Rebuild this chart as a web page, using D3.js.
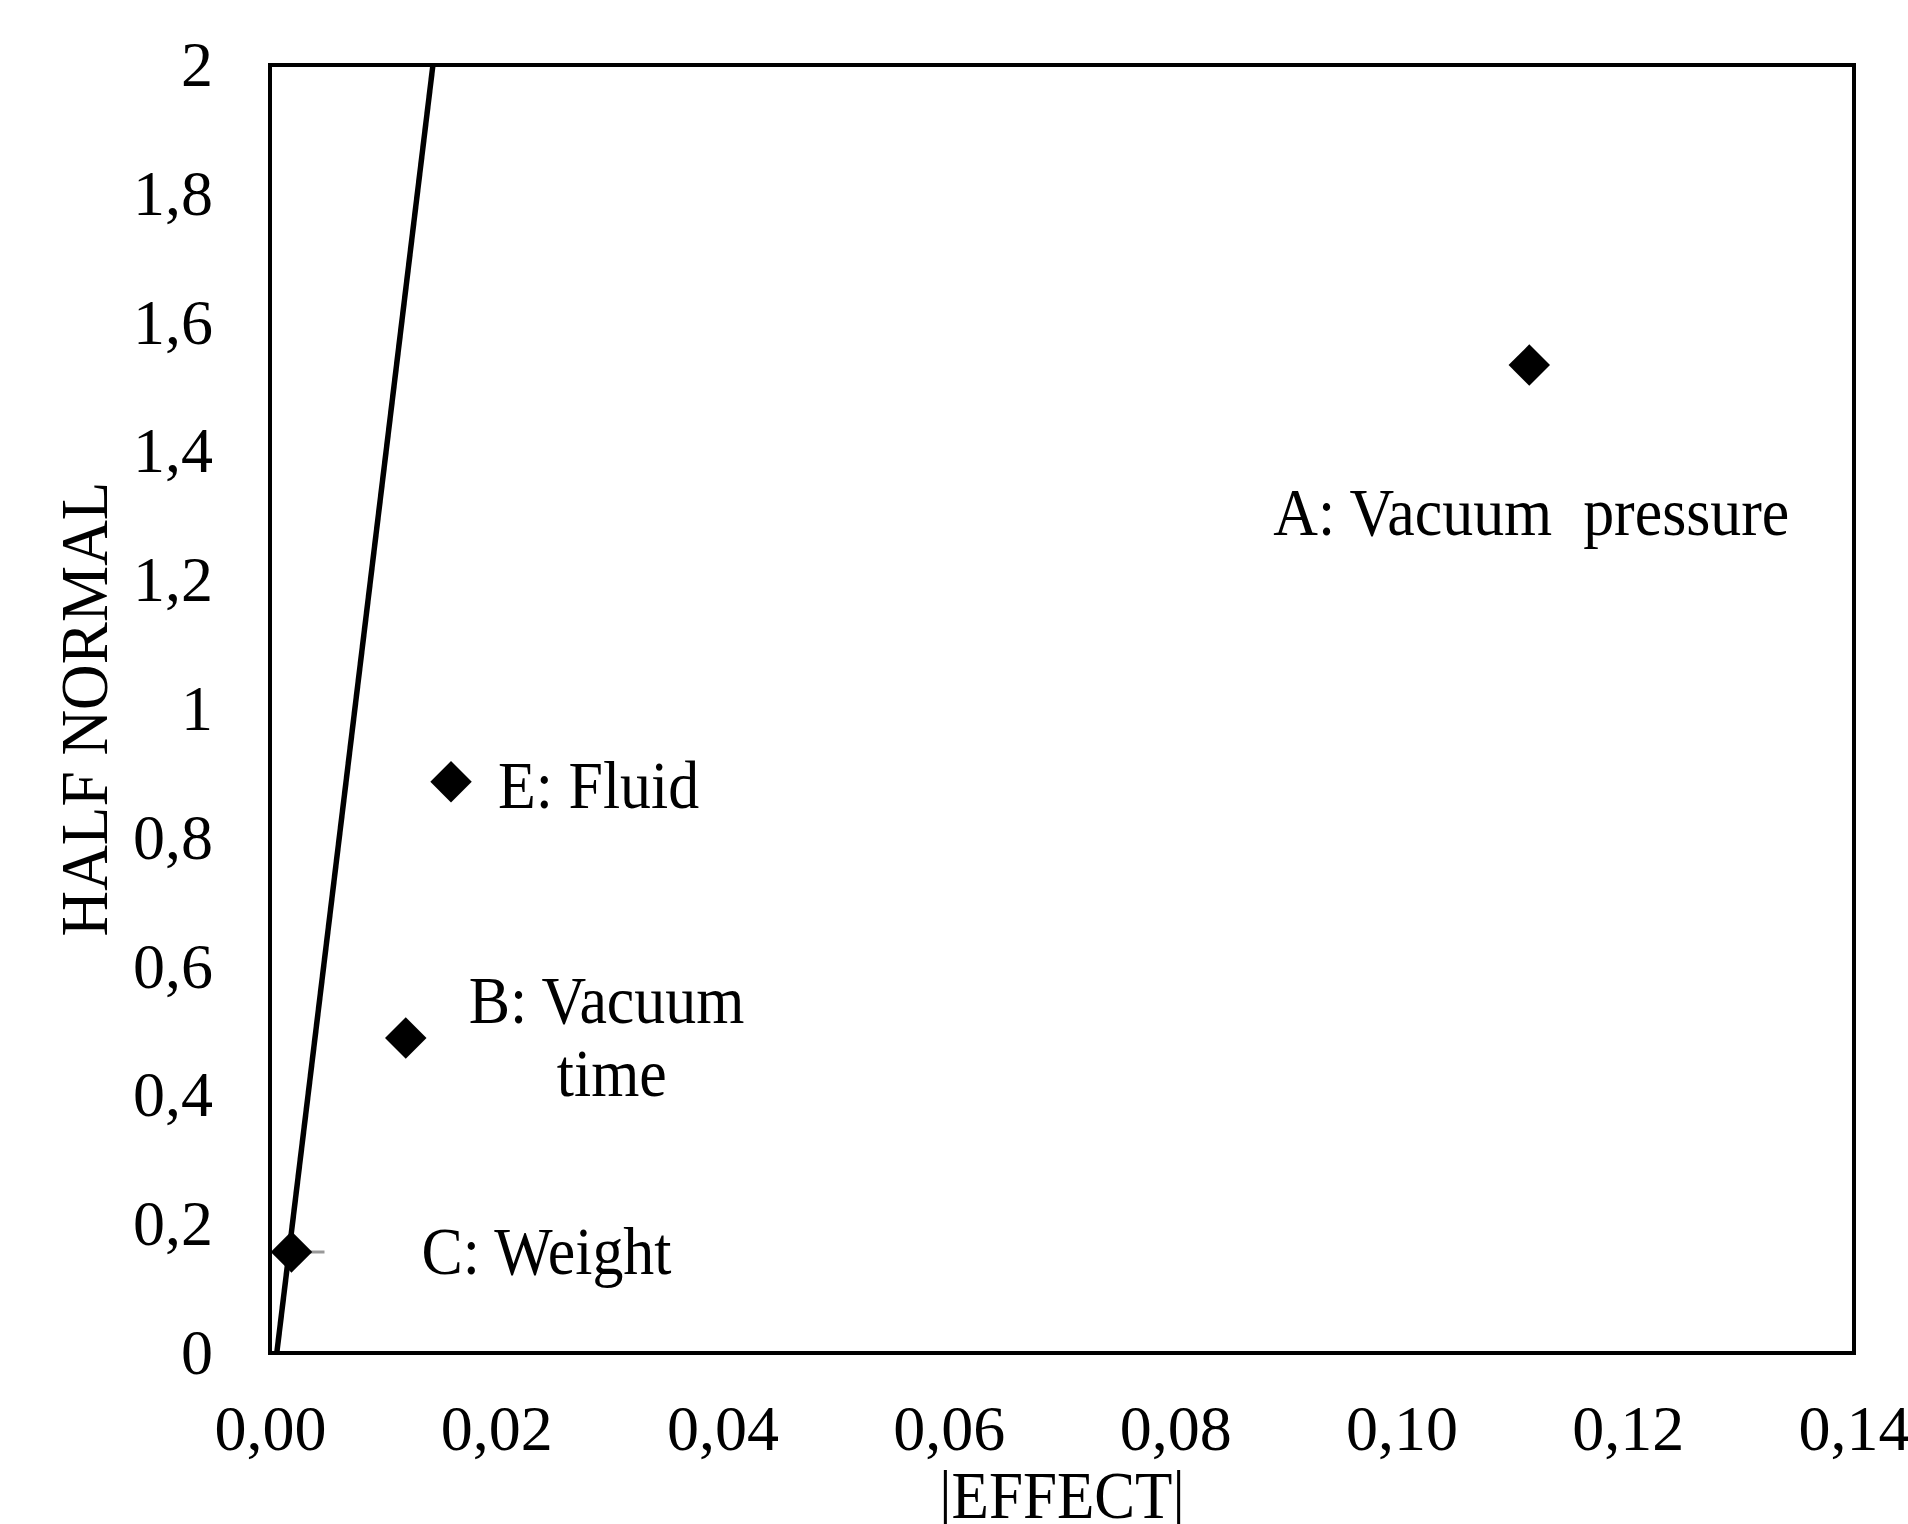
<!DOCTYPE html>
<html>
<head>
<meta charset="utf-8">
<script src="https://cdn.jsdelivr.net/npm/d3@7"></script>
<style>
  body { margin: 0; background: #fff; }
  text { font-family: "Liberation Serif", "Times New Roman", serif; fill: #000; white-space: pre; }
</style>
</head>
<body>
<div class="graph"></div>
<script>
// half normal plot of the effects
const factorNames = ["A", "B", "C", "E"];
const factorLabels = [["A: Vacuum  pressure"], ["B: Vacuum", "time"], ["C: Weight"], ["E: Fluid"]];
const effectValues = [0.1113, 0.0120, 0.0019, 0.0160];
const halfNormalValues = [1.534, 0.489, 0.157, 0.887];
const refLineEffect = [0.0006, 0.0144];
const refLineHalfNormal = [0, 2];
const xTickValues = [0, 0.02, 0.04, 0.06, 0.08, 0.10, 0.12, 0.14];
const yTickValues = [0, 0.2, 0.4, 0.6, 0.8, 1, 1.2, 1.4, 1.6, 1.8, 2];

function drawChart() {
    const W = 1908, H = 1524;
    const margin = {left: 270, top: 65, right: 54, bottom: 171};
    const width = W - margin.left - margin.right;
    const height = H - margin.top - margin.bottom;

    var svg = d3.select(".graph").append("svg").attr("width", W).attr("height", H);
    svg.append("rect").attr("width", W).attr("height", H).attr("fill", "#fff");
    var g = svg.append("g").attr("transform", "translate(" + margin.left + "," + margin.top + ")");

    const xScale = d3.scaleLinear().domain([0, 0.14]).range([0, width]);
    const yScale = d3.scaleLinear().domain([0, 2]).range([height, 0]);
    const comma = (f) => (d) => f(d).replace(".", ",");

    // axes (labels only, frame drawn as a rect)
    const xaxis = d3.axisBottom(xScale).tickValues(xTickValues).tickSize(0).tickPadding(52)
        .tickFormat(comma(d3.format(".2f")));
    const yaxis = d3.axisLeft(yScale).tickValues(yTickValues).tickSize(0).tickPadding(57)
        .tickFormat(comma(d3.format("~g")));
    g.append("g").attr("transform", "translate(0," + height + ")").call(xaxis)
        .call(a => a.select(".domain").remove())
        .selectAll("text").style("font-size", "64px").attr("fill", "#000");
    g.append("g").call(yaxis)
        .call(a => a.select(".domain").remove())
        .selectAll("text").style("font-size", "64px").attr("fill", "#000");

    // reference line
    const refData = refLineEffect.map((e, i) => [e, refLineHalfNormal[i]]);
    g.append("path")
        .attr("d", d3.line().x(d => xScale(d[0])).y(d => yScale(d[1]))(refData))
        .attr("stroke", "#000").attr("stroke-width", 5.5).attr("fill", "none");

    // leader line on C
    const ci = factorNames.indexOf("C");
    g.append("line")
        .attr("x1", xScale(effectValues[ci]) - 16).attr("x2", xScale(effectValues[ci]) + 33)
        .attr("y1", yScale(halfNormalValues[ci])).attr("y2", yScale(halfNormalValues[ci]))
        .attr("stroke", "#999").attr("stroke-width", 3);

    // points
    const diamond = d3.symbol().type(d3.symbolSquare).size(860);
    g.selectAll(".pt").data(factorNames).join("path")
        .attr("class", "pt")
        .attr("d", diamond)
        .attr("transform", (d, i) => "translate(" + xScale(effectValues[i]) + "," + yScale(halfNormalValues[i]) + ") rotate(45)")
        .attr("fill", "#000");

    // point labels: offset from each point, first line then second line
    const labelOffset = {A: [[-256, 170]], B: [[63, -15], [151, 58]], C: [[130, 22]], E: [[47, 26]]};
    factorNames.forEach((n, i) => {
        const px = xScale(effectValues[i]), py = yScale(halfNormalValues[i]);
        factorLabels[i].forEach((t, j) => {
            const o = labelOffset[n][j];
            g.append("text")
                .attr("transform", "translate(" + (px + o[0]) + "," + (py + o[1]) + ") scale(0.91,1)")
                .style("font-size", "68px")
                .text(t);
        });
    });

    // frame
    g.append("rect").attr("width", width).attr("height", height)
        .attr("fill", "none").attr("stroke", "#000").attr("stroke-width", 4);

    // axis titles
    svg.append("text")
        .attr("transform", "translate(" + (margin.left + width / 2) + "," + 1518 + ") scale(0.9,1)")
        .attr("text-anchor", "middle")
        .style("font-size", "68px")
        .text("|EFFECT|");
    svg.append("text")
        .attr("transform", "translate(" + 107 + "," + (margin.top + height / 2) + ") rotate(-90) scale(0.93,1)")
        .attr("text-anchor", "middle")
        .style("font-size", "68px")
        .text("HALF NORMAL");
}

drawChart();
</script>
</body>
</html>
